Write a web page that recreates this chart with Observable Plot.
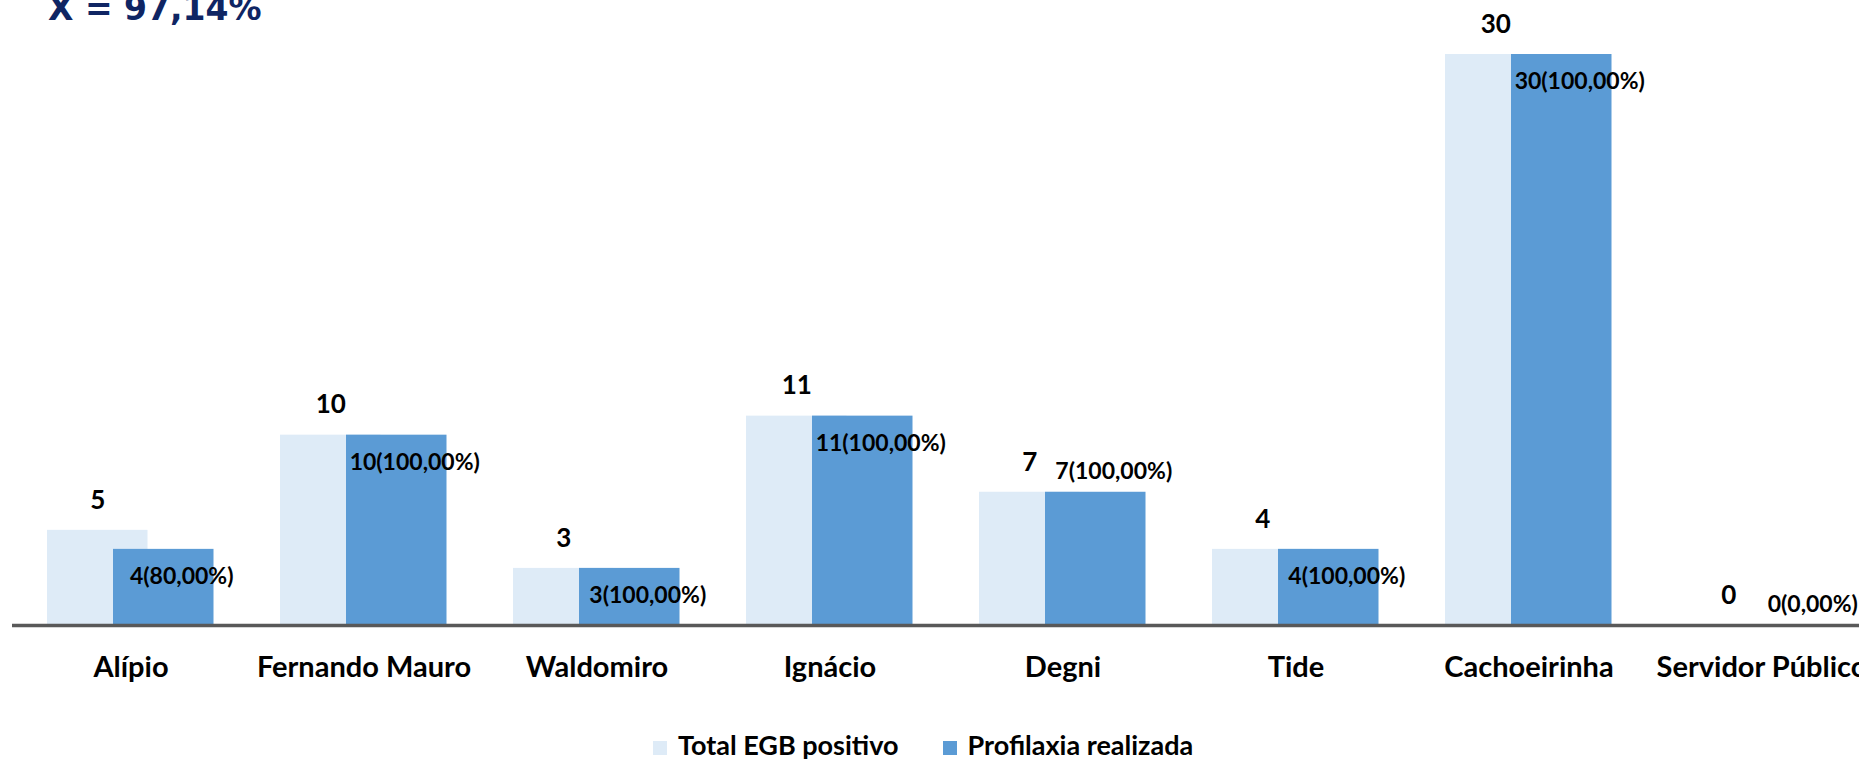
<!DOCTYPE html>
<html><head><meta charset="utf-8">
<script src="https://cdn.jsdelivr.net/npm/d3@7"></script>
<script src="https://cdn.jsdelivr.net/npm/@observablehq/plot@0.6"></script>
<style>
html,body{margin:0;padding:0;overflow:hidden;background:#fff;width:1859px;height:761px;}
#wrap{position:relative;width:1859px;height:761px;overflow:hidden;}
#title{position:absolute;left:48px;top:-8px;font-family:"DejaVu Sans";font-weight:bold;font-size:33px;color:#0f2563;line-height:1;white-space:nowrap;}
#chart{position:absolute;left:0;top:0;width:1880px;}
#chart svg{max-width:none !important;}
#legend{position:absolute;left:653px;top:731px;font-family:"Lato";font-weight:bold;font-size:27px;line-height:27px;color:#000;white-space:nowrap;}
.sw{display:inline-block;width:14px;height:14px;vertical-align:0;margin-right:11px;}
.item2{margin-left:44px;}
</style>
</head><body>
<div id="wrap">
  <div id="chart"></div>
  <div id="title">X = 97,14%</div>
  <div id="legend"></div>
</div>
<script>
const categories = ["Alípio","Fernando Mauro","Waldomiro","Ignácio","Degni","Tide","Cachoeirinha","Servidor Público"];
const totalEGB = [5,10,3,11,7,4,30,0];
const profilaxia = [4,10,3,11,7,4,30,0];
const labelPlacement = ["inside","inside","inside","inside","outside","inside","inside","outside"];
const seriesNames = ["Total EGB positivo","Profilaxia realizada"];
const colors = ["#deebf7","#5b9bd5"];

const rows = categories.map((c,i)=>({
  cat:c, total:totalEGB[i], prof:profilaxia[i], place:labelPlacement[i],
  pctLabel: `${profilaxia[i]}(${(totalEGB[i] ? profilaxia[i]/totalEGB[i]*100 : 0).toFixed(2).replace(".",",")}%)`
}));

const W=1880, H=700, mL=12, mR=0, mT=54, mB=75;
const bw=(W-mL-mR)/categories.length;

const chart = Plot.plot({
  width: W, height: H, marginLeft: mL, marginRight: mR, marginTop: mT, marginBottom: mB,
  x: {domain: categories, padding: 0, axis: null},
  y: {domain: [0,30], axis: null},
  style: {fontFamily: "Lato", fontWeight: "bold", color: "#000", background: "transparent", overflow: "visible", maxWidth: "none"},
  marks: [
    Plot.barY(rows, {x:"cat", y:"total", fill: colors[0], insetLeft: 33, insetRight: bw-134}),
    Plot.barY(rows, {x:"cat", y:"prof", fill: colors[1], insetLeft: 99, insetRight: bw-200}),
    Plot.ruleY([0], {stroke:"#595959", strokeWidth:3.5}),
    Plot.text(rows, {x:"cat", y:"total", text: d=>String(d.total), dx: 83.5-bw/2, dy: -30, fontSize: 26, fontWeight: "bold", fill: "#000"}),
    Plot.text(rows.filter(d=>d.place==="inside"), {x:"cat", y:"prof", text:"pctLabel", dx: 167.5-bw/2, dy: 27, fontSize: 23, fontWeight: "bold", fill: "#000"}),
    Plot.text(rows.filter(d=>d.place==="outside"), {x:"cat", y:"prof", text:"pctLabel", dx: 167.5-bw/2, dy: -21, fontSize: 23, fontWeight: "bold", fill: "#000"}),
    Plot.axisX({tickSize: 0, tickPadding: 31, fontSize: 29, fontWeight: "bold", fill: "#000", label: null})
  ]
});
chart.style.maxWidth = "none";
document.getElementById("chart").appendChild(chart);

const lg = document.getElementById("legend");
seriesNames.forEach((n,i)=>{
  const s = document.createElement("span");
  if (i>0) s.className = "item2";
  s.innerHTML = `<span class="sw" style="background:${colors[i]}"></span>${n}`;
  lg.appendChild(s);
});
</script>
</body></html>
